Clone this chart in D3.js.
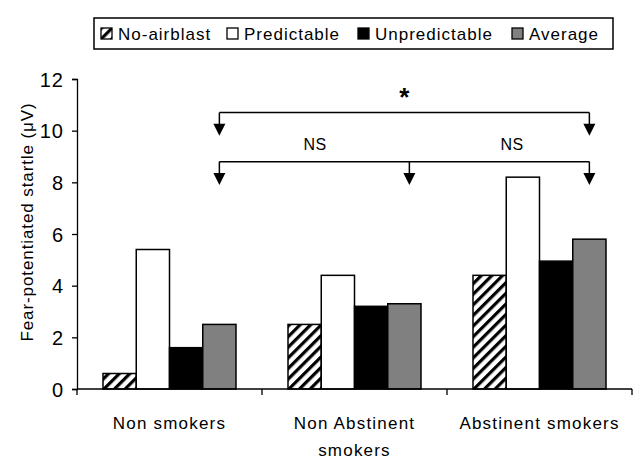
<!DOCTYPE html>
<html lang="en">
<head>
  <meta charset="UTF-8">
  <title>Fear-potentiated startle</title>
  <script src="https://d3js.org/d3.v7.min.js"></script>
  <style>
    body { margin: 0; background: #fff; }
    svg text { font-family: "Liberation Sans", Arial, sans-serif; fill: #000; }
  </style>
</head>
<body>
  <script>
    // data
    var categories = ["Non smokers", "Non Abstinent smokers", "Abstinent smokers"];
    var categoryLines = [["Non smokers"], ["Non Abstinent", "smokers"], ["Abstinent smokers"]];
    var seriesNames = ["No-airblast", "Predictable", "Unpredictable", "Average"];
    var noAirblast = [0.6, 2.5, 4.4];
    var predictable = [5.4, 4.4, 8.2];
    var unpredictable = [1.6, 3.2, 4.95];
    var average = [2.5, 3.3, 5.8];
    var yTicks = [0, 2, 4, 6, 8, 10, 12];

    var seriesValues = [noAirblast, predictable, unpredictable, average];
    var fills = ["url(#hatch)", "#ffffff", "#000000", "#808080"];

    var width = 644, height = 475;
    var svg = d3.select("body").append("svg")
      .attr("width", width)
      .attr("height", height);

    // hatch pattern for No-airblast
    var defs = svg.append("defs");
    var pat = defs.append("pattern")
      .attr("id", "hatch")
      .attr("patternUnits", "userSpaceOnUse")
      .attr("width", 7.5)
      .attr("height", 7.5)
      .attr("patternTransform", "rotate(45)");
    pat.append("rect").attr("width", 7.5).attr("height", 7.5).attr("fill", "#fff");
    pat.append("rect").attr("x", 0).attr("width", 3.2).attr("height", 7.5).attr("fill", "#000");

    var plot = { left: 77, right: 632, top: 79, bottom: 389 };

    var x = d3.scaleBand()
      .domain(categories)
      .range([plot.left, plot.right]);
    var inner = d3.scaleBand()
      .domain(seriesNames)
      .range([26, x.bandwidth() - 26]);
    var y = d3.scaleLinear()
      .domain([0, 12])
      .range([plot.bottom, plot.top]);

    // y axis
    var yAxis = svg.append("g")
      .attr("transform", "translate(" + plot.left + ",0)")
      .call(d3.axisLeft(y).tickValues(yTicks).tickSize(5).tickPadding(8));
    yAxis.select(".domain").attr("stroke", "#000").attr("stroke-width", 1.3);
    yAxis.selectAll(".tick line").attr("stroke", "#000").attr("stroke-width", 1.3);
    yAxis.selectAll(".tick text")
      .style("font-size", "20px")
      .style("letter-spacing", "1px")
      .attr("dy", "0.36em");

    svg.append("text")
      .attr("transform", "translate(33,222) rotate(-90)")
      .attr("text-anchor", "middle")
      .style("font-size", "17px")
      .style("letter-spacing", "0.9px")
      .text("Fear-potentiated startle (\u03bcV)");

    // bars
    var groups = svg.selectAll("g.grp")
      .data(categories)
      .enter().append("g")
      .attr("class", "grp")
      .attr("transform", function (d) { return "translate(" + x(d) + ",0)"; });

    groups.selectAll("rect")
      .data(function (d, i) {
        return seriesNames.map(function (s, j) {
          return { s: s, v: seriesValues[j][i], j: j };
        });
      })
      .enter().append("rect")
      .attr("x", function (d) { return inner(d.s); })
      .attr("y", function (d) { return y(d.v); })
      .attr("width", inner.bandwidth())
      .attr("height", function (d) { return y(0) - y(d.v); })
      .attr("fill", function (d) { return fills[d.j]; })
      .attr("stroke", "#000")
      .attr("stroke-width", 1.5);

    // x axis with ticks on category boundaries
    var xa = svg.append("g");
    xa.append("line")
      .attr("x1", plot.left).attr("x2", plot.right)
      .attr("y1", plot.bottom).attr("y2", plot.bottom)
      .attr("stroke", "#000").attr("stroke-width", 1.3);
    var bounds = categories.map(function (c) { return x(c); }).concat([plot.right]);
    xa.selectAll("line.tk")
      .data(bounds)
      .enter().append("line")
      .attr("class", "tk")
      .attr("x1", function (d) { return d; }).attr("x2", function (d) { return d; })
      .attr("y1", plot.bottom).attr("y2", plot.bottom + 6)
      .attr("stroke", "#000").attr("stroke-width", 1.3);

    xa.selectAll("text.cat")
      .data(categories)
      .enter().append("text")
      .attr("class", "cat")
      .attr("text-anchor", "middle")
      .style("font-size", "17px")
      .style("letter-spacing", "1.2px")
      .each(function (d, i) {
        var t = d3.select(this);
        categoryLines[i].forEach(function (line, k) {
          t.append("tspan")
            .attr("x", x(d) + x.bandwidth() / 2)
            .attr("y", 429 + k * 27)
            .text(line);
        });
      });

    // significance brackets, arrows point at the Average bars
    function avgX(c) {
      // the middle arrow sits a little right of its bar in the original
      var shift = c === "Non Abstinent smokers" ? 5 : 0;
      return x(c) + inner("Average") + inner.bandwidth() / 2 + shift;
    }

    function bracket(cats, lineVal, tipVal) {
      var ly = y(lineVal), ty = y(tipVal);
      var xs = cats.map(avgX);
      var g = svg.append("g");
      g.append("line")
        .attr("x1", d3.min(xs)).attr("x2", d3.max(xs))
        .attr("y1", ly).attr("y2", ly)
        .attr("stroke", "#000").attr("stroke-width", 1.5);
      xs.forEach(function (ax) {
        g.append("line")
          .attr("x1", ax).attr("x2", ax)
          .attr("y1", ly).attr("y2", ty - 10)
          .attr("stroke", "#000").attr("stroke-width", 1.5);
        g.append("path")
          .attr("d", "M" + (ax - 6) + "," + (ty - 12) + "L" + (ax + 6) + "," + (ty - 12) + "L" + ax + "," + ty + "Z")
          .attr("fill", "#000");
      });
    }

    bracket(["Non smokers", "Abstinent smokers"], 10.7, 9.8);
    bracket(categories, 8.8, 7.9);

    svg.append("text")
      .attr("x", (avgX(categories[0]) + avgX(categories[2])) / 2)
      .attr("y", y(10.95))
      .attr("text-anchor", "middle")
      .style("font-size", "26px")
      .style("font-weight", "bold")
      .text("*");

    var nsX = [315, 512];
    nsX.forEach(function (nx) {
      svg.append("text")
        .attr("x", nx)
        .attr("y", y(9.5) + 6)
        .attr("text-anchor", "middle")
        .style("font-size", "16px")
        .style("letter-spacing", "0.5px")
        .text("NS");
    });

    // legend
    var legend = svg.append("g");
    legend.append("rect")
      .attr("x", 94).attr("y", 18)
      .attr("width", 519).attr("height", 31)
      .attr("fill", "#fff")
      .attr("stroke", "#000")
      .attr("stroke-width", 1.5);
    var legendX = [101, 227, 358, 512];
    seriesNames.forEach(function (s, j) {
      legend.append("rect")
        .attr("x", legendX[j]).attr("y", 28)
        .attr("width", 11).attr("height", 11)
        .attr("fill", fills[j])
        .attr("stroke", "#000")
        .attr("stroke-width", 1.3);
      legend.append("text")
        .attr("x", legendX[j] + 17).attr("y", 40)
        .style("font-size", "17px")
        .style("letter-spacing", "1px")
        .text(s);
    });
  </script>
</body>
</html>
